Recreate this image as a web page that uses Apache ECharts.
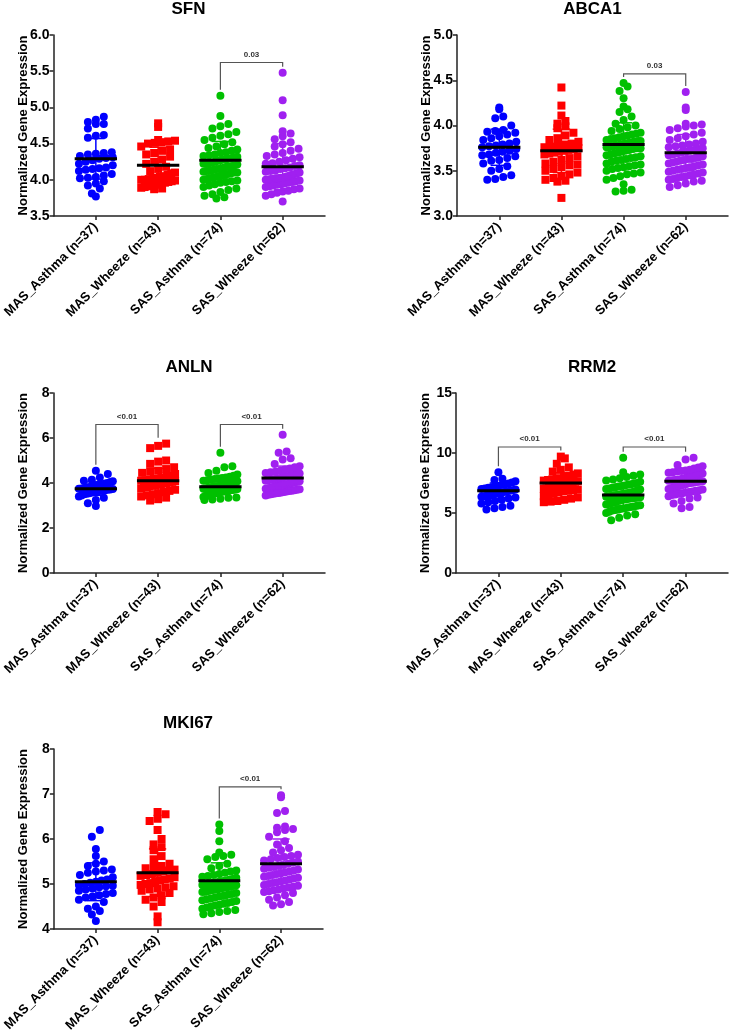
<!DOCTYPE html>
<html>
<head>
<meta charset="utf-8">
<script src="https://cdn.jsdelivr.net/npm/echarts@6/dist/echarts.min.js"></script>
<style>
html,body{margin:0;padding:0;background:#fff;}
#chart{width:730px;height:1036px;}
</style>
</head>
<body>
<div id="chart"></div>
<script>
// ---------------- data ----------------
const categories = ['MAS_Asthma (n=37)', 'MAS_Wheeze (n=43)', 'SAS_Asthma (n=74)', 'SAS_Wheeze (n=62)'];
const genes = ['SFN', 'ABCA1', 'ANLN', 'RRM2', 'MKI67'];
const yAxisTitle = 'Normalized Gene Expression';

// y axis ranges / tick steps
const yMins = [3.5, 3.0, 0, 0, 4];
const yMaxs = [6.0, 5.0, 8, 15, 8];
const ySteps = [0.5, 0.5, 2, 5, 1];

// SFN
const sfnMasAsthma = [4.87,4.83,4.80,4.77,4.77,4.71,4.62,4.61,4.58,4.38,4.37,4.36,4.35,4.33,4.31,4.30,4.29,4.27,4.25,4.22,4.20,4.17,4.16,4.15,4.14,4.12,4.08,4.06,4.04,4.03,4.02,3.98,3.95,3.92,3.88,3.81,3.77];
const sfnMasWheeze = [4.78,4.73,4.55,4.54,4.53,4.52,4.51,4.50,4.46,4.42,4.40,4.37,4.35,4.32,4.28,4.25,4.22,4.18,4.15,4.12,4.10,4.09,4.07,4.05,4.04,4.03,4.02,4.01,4.00,4.00,3.99,3.98,3.97,3.96,3.95,3.94,3.93,3.92,3.91,3.90,3.89,3.88,3.87];
const sfnSasAsthma = [5.16,4.88,4.77,4.74,4.71,4.66,4.63,4.61,4.58,4.55,4.52,4.49,4.46,4.44,4.42,4.40,4.38,4.37,4.35,4.34,4.33,4.32,4.31,4.30,4.29,4.28,4.28,4.27,4.26,4.25,4.24,4.23,4.22,4.22,4.21,4.20,4.19,4.18,4.18,4.17,4.16,4.15,4.15,4.14,4.13,4.12,4.12,4.11,4.10,4.10,4.09,4.08,4.07,4.06,4.05,4.04,4.03,4.02,4.01,4.00,3.99,3.98,3.97,3.96,3.94,3.92,3.90,3.88,3.86,3.83,3.80,3.78,3.76,3.74];
const sfnSasWheeze = [5.48,5.10,4.89,4.67,4.64,4.60,4.56,4.52,4.49,4.46,4.43,4.40,4.37,4.35,4.33,4.31,4.29,4.27,4.25,4.23,4.22,4.20,4.19,4.17,4.16,4.15,4.13,4.12,4.11,4.10,4.09,4.08,4.07,4.06,4.05,4.04,4.03,4.03,4.02,4.02,4.01,4.01,4.00,4.00,3.99,3.98,3.97,3.96,3.95,3.94,3.93,3.92,3.91,3.90,3.88,3.87,3.85,3.84,3.82,3.80,3.78,3.70];
const sfnMeans = [4.29, 4.20, 4.27, 4.18];
const sfnSds = [0.28, 0.25, 0.26, 0.32];

// ABCA1
const abca1MasAsthma = [4.20,4.18,4.10,4.08,4.00,3.95,3.94,3.93,3.92,3.90,3.88,3.86,3.84,3.82,3.80,3.79,3.78,3.77,3.76,3.74,3.72,3.71,3.70,3.68,3.67,3.66,3.64,3.62,3.61,3.58,3.55,3.52,3.50,3.45,3.43,3.41,3.40];
const abca1MasWheeze = [4.42,4.22,4.11,4.05,4.02,3.99,3.97,3.92,3.89,3.86,3.84,3.82,3.80,3.79,3.78,3.77,3.76,3.75,3.74,3.73,3.72,3.71,3.70,3.69,3.68,3.66,3.64,3.62,3.60,3.58,3.57,3.56,3.54,3.52,3.50,3.48,3.46,3.44,3.42,3.40,3.39,3.38,3.20];
const abca1SasAsthma = [4.47,4.43,4.38,4.30,4.21,4.18,4.15,4.10,4.06,4.02,4.00,3.98,3.96,3.94,3.92,3.91,3.90,3.89,3.88,3.87,3.86,3.85,3.84,3.83,3.83,3.82,3.82,3.81,3.81,3.80,3.80,3.79,3.79,3.78,3.78,3.77,3.77,3.76,3.76,3.75,3.75,3.74,3.73,3.72,3.71,3.70,3.69,3.68,3.67,3.66,3.65,3.64,3.63,3.62,3.61,3.60,3.58,3.57,3.56,3.55,3.54,3.53,3.52,3.50,3.48,3.47,3.46,3.44,3.42,3.40,3.35,3.29,3.28,3.27];
const abca1SasWheeze = [4.37,4.20,4.17,4.02,4.01,4.00,3.99,3.97,3.95,3.92,3.90,3.88,3.86,3.84,3.82,3.80,3.79,3.78,3.77,3.76,3.75,3.74,3.73,3.72,3.71,3.70,3.69,3.68,3.67,3.66,3.65,3.64,3.63,3.63,3.62,3.61,3.60,3.59,3.58,3.57,3.56,3.55,3.54,3.53,3.52,3.51,3.50,3.49,3.48,3.47,3.46,3.45,3.44,3.43,3.42,3.41,3.40,3.39,3.38,3.36,3.34,3.32];
const abca1Means = [3.76, 3.72, 3.79, 3.70];
const abca1Sds = [0.20, 0.24, 0.24, 0.20];

// ANLN
const anlnMasAsthma = [4.55,4.40,4.25,4.15,4.10,4.08,4.05,4.00,3.98,3.95,3.92,3.90,3.88,3.85,3.82,3.80,3.78,3.76,3.75,3.73,3.71,3.70,3.68,3.66,3.64,3.62,3.60,3.58,3.55,3.52,3.50,3.45,3.40,3.35,3.25,3.10,2.98];
const anlnMasWheeze = [5.75,5.65,5.55,5.00,4.95,4.85,4.70,4.62,4.55,4.50,4.45,4.40,4.35,4.30,4.25,4.20,4.18,4.15,4.12,4.10,4.08,4.05,4.02,4.00,3.98,3.95,3.92,3.90,3.88,3.85,3.82,3.80,3.75,3.70,3.65,3.60,3.55,3.50,3.45,3.40,3.35,3.28,3.22];
const anlnSasAsthma = [5.35,4.75,4.70,4.55,4.45,4.38,4.32,4.28,4.25,4.22,4.20,4.18,4.15,4.12,4.10,4.08,4.06,4.04,4.02,4.00,3.99,3.98,3.96,3.95,3.94,3.92,3.91,3.90,3.89,3.88,3.87,3.86,3.85,3.84,3.83,3.82,3.81,3.80,3.79,3.78,3.77,3.76,3.75,3.74,3.73,3.72,3.71,3.70,3.69,3.68,3.67,3.66,3.65,3.64,3.63,3.62,3.61,3.60,3.58,3.56,3.54,3.52,3.50,3.48,3.46,3.44,3.42,3.40,3.38,3.36,3.34,3.30,3.27,3.25];
const anlnSasWheeze = [6.15,5.40,5.35,5.10,5.05,4.85,4.75,4.70,4.65,4.60,4.55,4.50,4.48,4.45,4.42,4.40,4.38,4.35,4.32,4.30,4.28,4.25,4.22,4.20,4.18,4.16,4.14,4.12,4.10,4.08,4.06,4.04,4.02,4.00,3.98,3.96,3.95,3.93,3.92,3.90,3.88,3.86,3.84,3.82,3.80,3.78,3.76,3.74,3.72,3.70,3.68,3.66,3.64,3.62,3.60,3.58,3.56,3.54,3.52,3.50,3.48,3.45];
const anlnMeans = [3.75, 4.10, 3.83, 4.22];
const anlnSds = [0.30, 0.55, 0.35, 0.53];

// RRM2
const rrm2MasAsthma = [8.40,7.85,7.75,7.65,7.55,7.45,7.40,7.35,7.25,7.20,7.15,7.10,7.05,7.00,6.95,6.90,6.85,6.80,6.75,6.70,6.65,6.60,6.55,6.50,6.45,6.40,6.35,6.30,6.20,6.10,6.00,5.90,5.80,5.60,5.50,5.40,5.30];
const rrm2MasWheeze = [9.70,9.55,9.10,8.80,8.60,8.45,8.30,8.20,8.10,8.00,7.90,7.85,7.80,7.75,7.70,7.65,7.60,7.55,7.50,7.45,7.40,7.35,7.30,7.25,7.20,7.15,7.10,7.05,7.00,6.95,6.90,6.85,6.80,6.70,6.60,6.50,6.40,6.30,6.20,6.10,6.00,5.95,5.90];
const rrm2SasAsthma = [9.60,8.40,8.20,8.10,8.00,7.90,7.80,7.70,7.60,7.50,7.45,7.40,7.35,7.30,7.25,7.20,7.15,7.10,7.05,7.00,6.95,6.90,6.85,6.80,6.75,6.70,6.68,6.65,6.62,6.60,6.58,6.55,6.52,6.50,6.48,6.45,6.42,6.40,6.38,6.35,6.32,6.30,6.28,6.25,6.22,6.20,6.18,6.15,6.12,6.10,6.05,6.00,5.95,5.90,5.85,5.80,5.75,5.70,5.65,5.60,5.55,5.50,5.45,5.40,5.35,5.30,5.25,5.20,5.10,5.00,4.90,4.80,4.60,4.40];
const rrm2SasWheeze = [9.60,9.45,9.00,8.90,8.80,8.70,8.60,8.55,8.50,8.45,8.40,8.35,8.30,8.25,8.20,8.15,8.10,8.05,8.00,7.95,7.90,7.85,7.80,7.78,7.75,7.72,7.70,7.68,7.65,7.62,7.60,7.58,7.55,7.52,7.50,7.45,7.40,7.35,7.30,7.25,7.20,7.15,7.10,7.05,7.00,6.95,6.90,6.85,6.80,6.75,6.70,6.65,6.60,6.55,6.50,6.40,6.30,6.20,6.00,5.80,5.50,5.40];
const rrm2Means = [6.85, 7.50, 6.50, 7.65];
const rrm2Sds = [0.65, 0.85, 0.90, 0.85];

// MKI67
const mki67MasAsthma = [6.20,6.05,5.78,5.62,5.50,5.45,5.40,5.32,5.30,5.28,5.25,5.20,5.15,5.10,5.08,5.05,5.03,5.00,4.98,4.96,4.95,4.93,4.90,4.88,4.85,4.80,4.78,4.75,4.72,4.70,4.65,4.60,4.50,4.45,4.40,4.32,4.18];
const mki67MasWheeze = [6.60,6.55,6.45,6.40,6.20,6.00,5.88,5.82,5.75,5.62,5.55,5.45,5.40,5.38,5.35,5.32,5.30,5.28,5.25,5.22,5.20,5.18,5.15,5.12,5.10,5.08,5.05,5.02,5.00,4.98,4.95,4.92,4.90,4.88,4.85,4.80,4.75,4.70,4.65,4.60,4.50,4.28,4.15];
const mki67SasAsthma = [6.32,6.18,5.95,5.70,5.65,5.62,5.60,5.55,5.45,5.40,5.35,5.30,5.28,5.25,5.22,5.20,5.18,5.16,5.14,5.12,5.10,5.10,5.08,5.08,5.06,5.06,5.05,5.04,5.03,5.02,5.01,5.00,5.00,4.99,4.98,4.97,4.96,4.95,4.94,4.93,4.92,4.91,4.90,4.89,4.88,4.87,4.86,4.85,4.84,4.83,4.82,4.80,4.78,4.76,4.74,4.72,4.70,4.68,4.66,4.64,4.62,4.60,4.58,4.56,4.54,4.52,4.50,4.48,4.45,4.42,4.40,4.38,4.35,4.33];
const mki67SasWheeze = [6.97,6.93,6.62,6.58,6.28,6.25,6.22,6.20,6.15,6.05,5.95,5.88,5.80,5.75,5.70,5.65,5.62,5.60,5.58,5.55,5.52,5.50,5.48,5.45,5.42,5.40,5.38,5.36,5.34,5.32,5.30,5.28,5.26,5.24,5.22,5.20,5.18,5.16,5.14,5.12,5.10,5.08,5.06,5.04,5.02,5.00,4.98,4.96,4.94,4.92,4.90,4.88,4.86,4.84,4.82,4.80,4.75,4.70,4.65,4.60,4.55,4.52];
const mki67Means = [5.05, 5.25, 5.07, 5.45];
const mki67Sds = [0.42, 0.53, 0.40, 0.55];

// significance brackets: [fromGroup, toGroup, level, label]
const sfnBrackets = [[2, 3, 5.62, '0.03']];
const abca1Brackets = [[2, 3, 4.57, '0.03']];
const anlnBrackets = [[0, 1, 6.6, '<0.01'], [2, 3, 6.6, '<0.01']];
const rrm2Brackets = [[0, 1, 10.5, '<0.01'], [2, 3, 10.5, '<0.01']];
const mki67Brackets = [[2, 3, 7.16, '<0.01']];

// ---------------- assembly ----------------
const geneGroups = [
  [sfnMasAsthma, sfnMasWheeze, sfnSasAsthma, sfnSasWheeze],
  [abca1MasAsthma, abca1MasWheeze, abca1SasAsthma, abca1SasWheeze],
  [anlnMasAsthma, anlnMasWheeze, anlnSasAsthma, anlnSasWheeze],
  [rrm2MasAsthma, rrm2MasWheeze, rrm2SasAsthma, rrm2SasWheeze],
  [mki67MasAsthma, mki67MasWheeze, mki67SasAsthma, mki67SasWheeze]
];
const geneMeans = [sfnMeans, abca1Means, anlnMeans, rrm2Means, mki67Means];
const geneSds = [sfnSds, abca1Sds, anlnSds, rrm2Sds, mki67Sds];
const geneBrackets = [sfnBrackets, abca1Brackets, anlnBrackets, rrm2Brackets, mki67Brackets];

const colors = ['#0000ff', '#ff0000', '#00c000', '#a020f0'];
const symbols = ['circle', 'rect', 'circle', 'circle'];
const FONT = '"Liberation Sans", Arial, sans-serif';
const X_MIN = -0.68, X_MAX = 3.68;

const grids = [
  {left: 52, top: 35, width: 273, height: 181},
  {left: 457, top: 35, width: 271, height: 181},
  {left: 53, top: 393, width: 272, height: 180},
  {left: 456, top: 393, width: 272, height: 180},
  {left: 53, top: 749, width: 270, height: 180}
];

const SYM = 8;
const MAX_HALF = 17;

// row-binned dot layout (like a column scatter plot)
function layoutGroup(values, gi, g) {
  const grid = grids[g];
  const pyu = grid.height / (yMaxs[g] - yMins[g]);
  const pxu = grid.width / (X_MAX - X_MIN);
  const bins = {};
  values.forEach(v => {
    const b = Math.round((v - yMins[g]) * pyu / SYM);
    (bins[b] = bins[b] || []).push(v);
  });
  const out = [];
  Object.keys(bins).forEach(k => {
    const arr = bins[k].slice().sort((a, b) => a - b);
    const n = arr.length;
    const sp = n > 1 ? Math.min(SYM, 2 * MAX_HALF / (n - 1)) : 0;
    arr.forEach((v, i) => {
      out.push([gi + ((i - (n - 1) / 2) * sp) / pxu, v]);
    });
  });
  return out;
}

const option = {
  animation: false,
  backgroundColor: '#ffffff',
  textStyle: {fontFamily: FONT},
  title: [],
  grid: [],
  xAxis: [],
  yAxis: [],
  series: []
};

genes.forEach((gene, g) => {
  const grid = grids[g];
  option.grid.push(Object.assign({containLabel: false}, grid));
  option.title.push({
    text: gene,
    left: grid.left + grid.width / 2,
    top: grid.top - 34,
    padding: 0,
    textAlign: 'center',
    textStyle: {fontFamily: FONT, fontWeight: 'bold', fontSize: 17, color: '#000'}
  });
  option.xAxis.push({
    type: 'value',
    gridIndex: g,
    min: X_MIN,
    max: X_MAX,
    splitLine: {show: false},
    axisLine: {show: true, onZero: false, lineStyle: {color: '#222', width: 1.5}},
    axisTick: {show: true, customValues: [0, 1, 2, 3], length: 4, lineStyle: {color: '#222', width: 1.5}},
    axisLabel: {
      show: true,
      customValues: [0, 1, 2, 3],
      rotate: 45,
      margin: 9,
      fontFamily: FONT,
      fontWeight: 'bold',
      fontSize: 13,
      color: '#000',
      formatter: v => (Number.isInteger(v) && categories[v]) ? categories[v] : ''
    }
  });
  option.yAxis.push({
    type: 'value',
    gridIndex: g,
    min: yMins[g],
    max: yMaxs[g],
    interval: ySteps[g],
    name: yAxisTitle,
    nameLocation: 'middle',
    nameGap: 24,
    nameMoveOverlap: false,
    nameRotate: 90,
    nameTextStyle: {fontFamily: FONT, fontWeight: 'bold', fontSize: 13, color: '#000'},
    splitLine: {show: false},
    axisLine: {show: true, onZero: false, lineStyle: {color: '#222', width: 1.5}},
    axisTick: {show: true, length: 4, lineStyle: {color: '#222', width: 1.5}},
    axisLabel: {
      fontFamily: FONT, fontWeight: 'bold', fontSize: 14, color: '#000', margin: 4,
      formatter: v => ySteps[g] < 1 ? v.toFixed(1) : String(v)
    }
  });

  const groups = geneGroups[g];
  groups.forEach((vals, gi) => {
    option.series.push({
      type: 'scatter',
      xAxisIndex: g,
      yAxisIndex: g,
      symbol: symbols[gi],
      symbolSize: SYM,
      itemStyle: {color: colors[gi], opacity: 1},
      emphasis: {disabled: true},
      data: layoutGroup(vals, gi, g),
      z: 2
    });
  });

  // mean + SD bars
  option.series.push({
    type: 'custom',
    xAxisIndex: g,
    yAxisIndex: g,
    z: 5,
    data: geneMeans[g].map((m, i) => [i, m, geneSds[g][i]]),
    renderItem: (params, api) => {
      const i = api.value(0), m = api.value(1), s = api.value(2);
      const c = api.coord([i, m]);
      const t = api.coord([i, m + s]);
      const b = api.coord([i, m - s]);
      const half = api.size([0.34, 0])[0];
      const cap = api.size([0.14, 0])[0];
      const col = colors[i];
      return {
        type: 'group',
        children: [
          {type: 'line', shape: {x1: c[0], y1: t[1], x2: c[0], y2: b[1]}, style: {stroke: col, lineWidth: 1.5}},
          {type: 'line', shape: {x1: c[0] - cap, y1: t[1], x2: c[0] + cap, y2: t[1]}, style: {stroke: col, lineWidth: 1.5}},
          {type: 'line', shape: {x1: c[0] - cap, y1: b[1], x2: c[0] + cap, y2: b[1]}, style: {stroke: col, lineWidth: 1.5}},
          {type: 'line', shape: {x1: c[0] - half, y1: c[1], x2: c[0] + half, y2: c[1]}, style: {stroke: '#000', lineWidth: 3}}
        ]
      };
    }
  });

  // significance brackets
  const br = geneBrackets[g];
  option.series.push({
    type: 'custom',
    xAxisIndex: g,
    yAxisIndex: g,
    z: 6,
    data: br.map(d => [d[0], d[1], d[2], Math.max.apply(null, groups[d[0]]), Math.max.apply(null, groups[d[1]])]),
    renderItem: (params, api) => {
      const a = api.value(0), b = api.value(1), lvl = api.value(2);
      const pa = api.coord([a, lvl]);
      const pb = api.coord([b, lvl]);
      const la = api.coord([a, api.value(3)])[1] - 6;
      const lb = api.coord([b, api.value(4)])[1] - 6;
      const label = br[params.dataIndex][3];
      return {
        type: 'group',
        children: [
          {type: 'polyline', shape: {points: [[pa[0], la], [pa[0], pa[1]], [pb[0], pb[1]], [pb[0], lb]]},
           style: {stroke: '#555', lineWidth: 1.2, fill: null}},
          {type: 'text', x: (pa[0] + pb[0]) / 2, y: pa[1] - 4,
           style: {text: label, fill: '#333', font: 'bold 8px ' + FONT, textAlign: 'center', textVerticalAlign: 'bottom'}}
        ]
      };
    }
  });
});

const chart = echarts.init(document.getElementById('chart'), null, {renderer: 'canvas'});
chart.setOption(option);
</script>
</body>
</html>
